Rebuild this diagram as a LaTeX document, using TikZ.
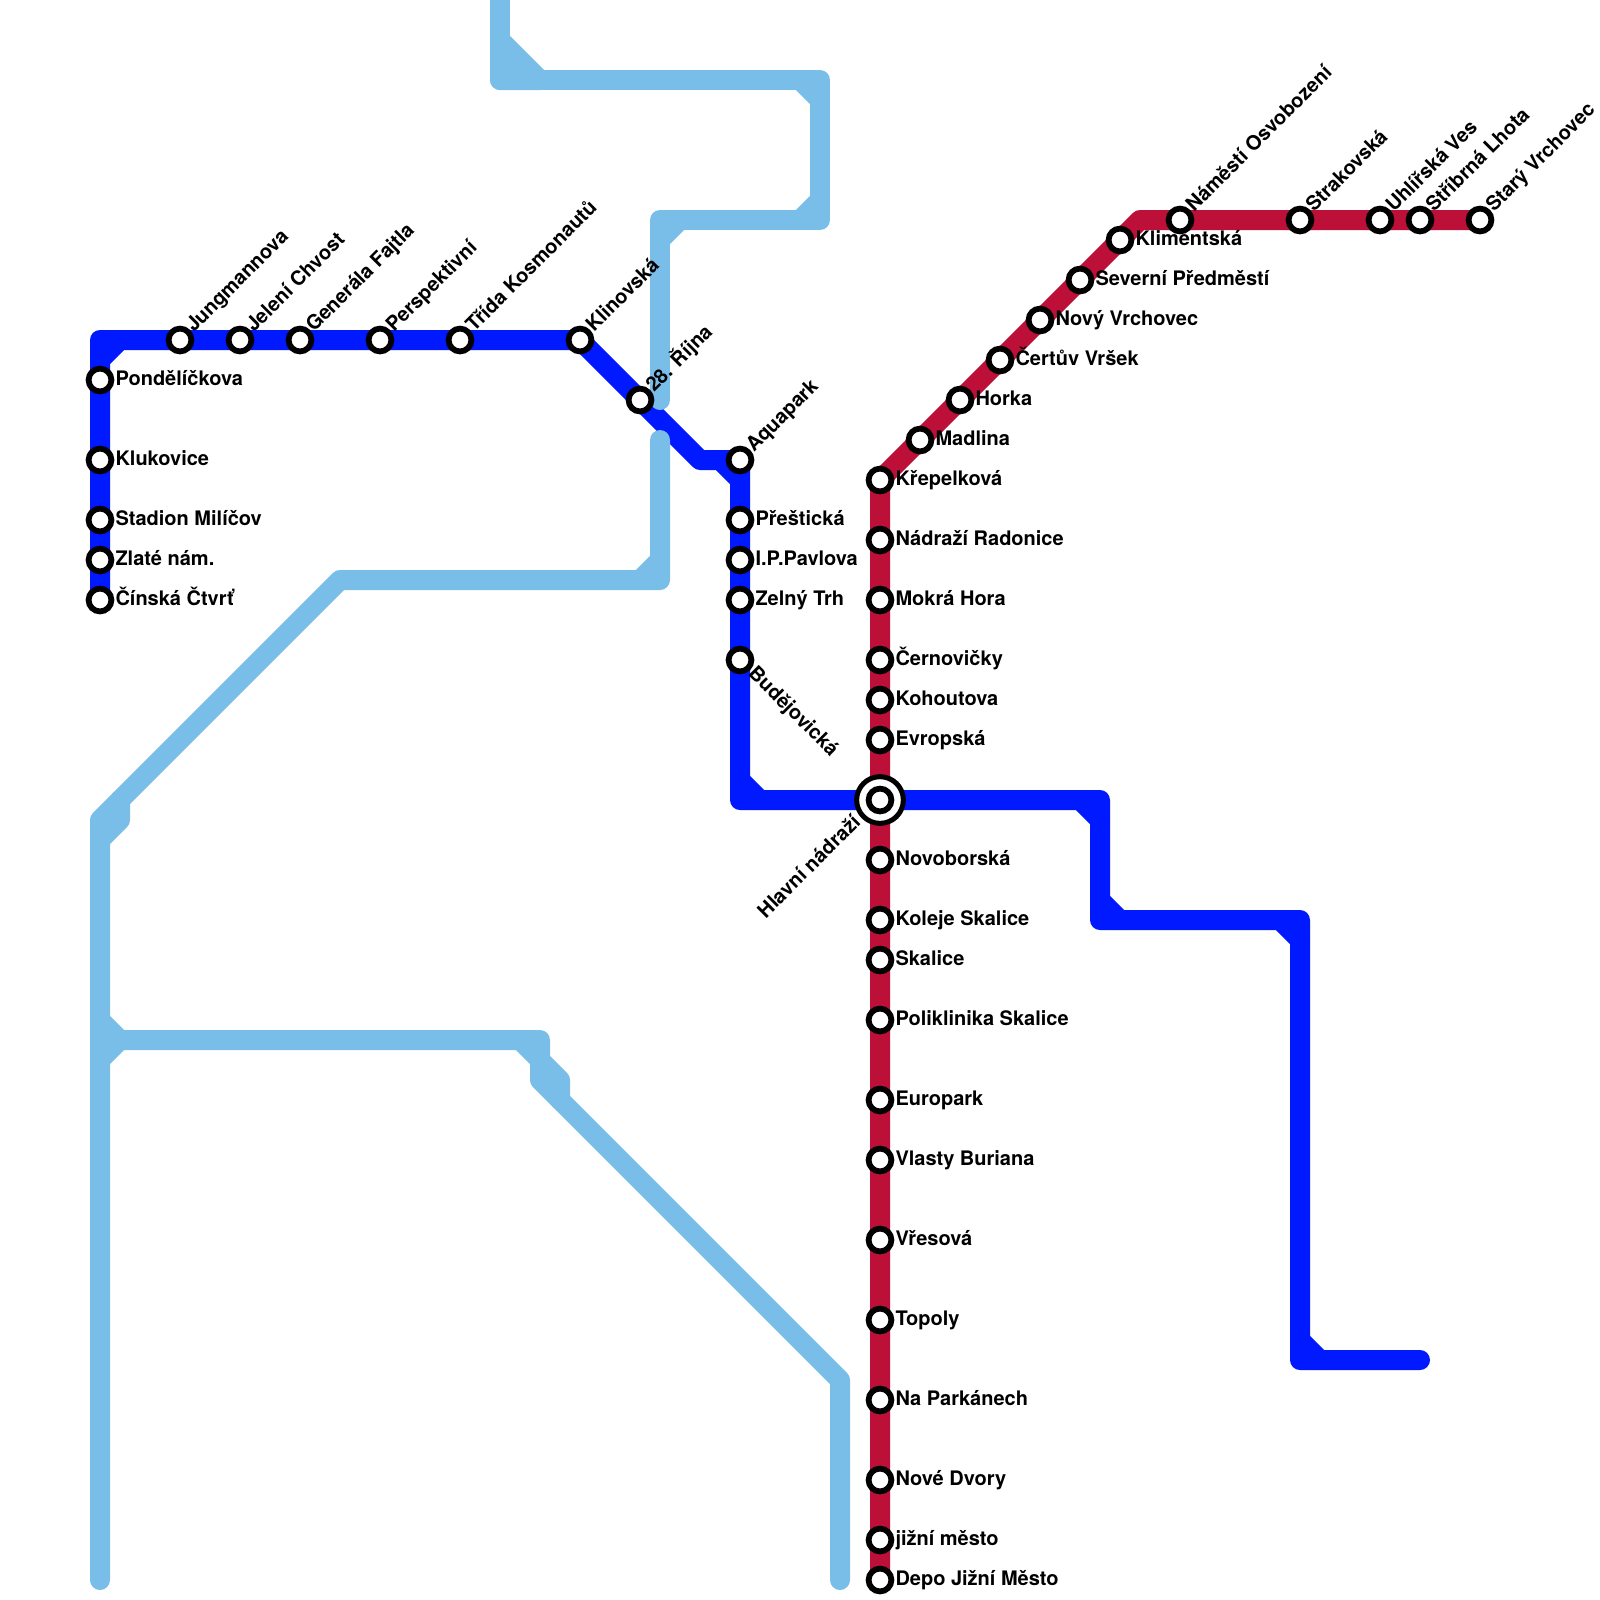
\documentclass[tikz,border=0pt]{standalone}
\usepackage{fontspec}
\usepackage{xcolor}
\newfontfamily\stfont{TeX Gyre Heros}
\usetikzlibrary{calc,backgrounds}
\definecolor{PBlue}{HTML}{0019FF}
\definecolor{PSky}{HTML}{79BDE9}
\definecolor{PRed}{HTML}{BD1038}
\tikzset{
  metro/.style={line width=0.2cm, line cap=round, line join=round},
  station/.style={circle, draw=black, fill=white, line width=0.058cm,
                  minimum size=0.228cm, inner sep=0pt},
  interchange/.style={station, line width=0.05cm, minimum size=0.467cm},
  stlabel/.style={font=\stfont\bfseries\fontsize{5.69}{5.69}\selectfont,
                  text=black, inner sep=0pt},
}
\begin{document}
\begin{tikzpicture}[x=0.2cm, y=-0.2cm]

        \useasboundingbox (0,0) rectangle (80,80);

        %% ── stations ──

        %% label to the right
        \foreach \nm/\px/\py/\txt in {
          pondelickova/5/19/Pondělíčkova, klukovice/5/23/Klukovice,
          milicov/5/26/Stadion Milíčov, zlate/5/28/Zlaté nám.,
          cinska/5/30/Čínská Čtvrť,
          presticka/37/26/Přeštická, pavlova/37/28/I.P.Pavlova,
          zelny/37/30/Zelný Trh,
          krepelkova/44/24/Křepelková, radonice/44/27/Nádraží Radonice,
          mokra/44/30/Mokrá Hora, cernovicky/44/33/Černovičky,
          kohoutova/44/35/Kohoutova, evropska/44/37/Evropská,
          novoborska/44/43/Novoborská, koleje/44/46/Koleje Skalice,
          skalice/44/48/Skalice, poliklinika/44/51/Poliklinika Skalice,
          europark/44/55/Europark, burian/44/58/Vlasty Buriana,
          vresova/44/62/Vřesová, topoly/44/66/Topoly,
          parkany/44/70/Na Parkánech, dvory/44/74/Nové Dvory,
          jizni/44/77/jižní město, depo/44/79/Depo Jižní Město,
          madlina/46/22/Madlina, horka/48/20/Horka,
          certuv/50/18/Čertův Vršek, vrchovec/52/16/Nový Vrchovec,
          severni/54/14/Severní Předměstí, klimentska/56/12/Klimentská}{
          \node[station] (\nm) at (\px,\py) {};
          \node[stlabel, anchor=base west] (\nm-txt)
            at ($(\nm)+(0.74,0.25)$) {\txt};
        }

        %% label going up
        \foreach \nm/\px/\py/\txt in {
          jungmannova/9/17/Jungmannova, jeleni/12/17/Jelení Chvost,
          fajtla/15/17/Generála Fajtla, perspektivni/19/17/Perspektivní,
          kosmonautu/23/17/Třída Kosmonautů, klinovska/29/17/Klinovská,
          rijna/32/20/28. Října, aquapark/37/23/Aquapark,
          osvobozeni/59/11/Náměstí Osvobození, strakovska/65/11/Strakovská,
          uhlirska/69/11/Uhlířská Ves, stribrna/71/11/Stříbrná Lhota,
          stary/74/11/Starý Vrchovec}{
          \node[station] (\nm) at (\px,\py) {};
          \node[stlabel, anchor=base west, rotate=45] (\nm-txt)
            at ($(\nm)+(0.68,-0.33)$) {\txt};
        }

        \node[station] (budejovicka) at (37,33) {};
        \node[stlabel, anchor=base west, rotate=-45] (budejovicka-txt)
          at ($(budejovicka)+(0.35,0.7)$) {Budějovická};

        \node[interchange] (hlavni) at (44,40) {};
        \node[station] (hlavni-in) at (44,40) {};
        \node[stlabel, anchor=base east, rotate=45] (hlavni-txt)
          at ($(hlavni)+(-0.9,1.15)$) {Hlavní nádraží};

        %% ── lines BEHIND the stations ──
        \begin{scope}[on background layer]

          %% blue line
          \coordinate (bcornerA) at (5,17);
          \coordinate (bcornerB) at (35,23);
          \coordinate (bcornerC) at (37,40);
          \coordinate (bcornerD) at (55,40);
          \coordinate (bcornerE) at (55,46);
          \coordinate (bcornerF) at (65,46);
          \coordinate (bcornerG) at (65,68);
          \coordinate (bend) at (71,68);
          \draw[metro, PBlue]
            (cinska.center) -- (bcornerA) -- (klinovska.center)
            -- (bcornerB) -- (aquapark.center) -- (bcornerC)
            -- (hlavni.center) -- (bcornerD) -- (bcornerE)
            -- (bcornerF) -- (bcornerG) -- (bend);
          \foreach \xa/\ya/\xb/\yb in {5/18/6/17, 36/23/37/24, 37/39/38/40,
                                       54/40/55/41, 55/45/56/46,
                                       64/46/65/47, 65/67/66/68}{
            \draw[metro, PBlue] (\xa,\ya) -- (\xb,\yb);
          }

          %% sky line, no stations on it
          \draw[metro, PSky]
            (25,0) -- (25,4) -- (41,4) -- (41,11) -- (33,11) -- (33,20);
          \draw[metro, PSky]
            (33,22) -- (33,29) -- (17,29) -- (5,41) -- (5,79);
          \draw[metro, PSky] (6,40) -- (6,41) -- (5,42);
          \draw[metro, PSky]
            (5,52) -- (27,52) -- (27,54) -- (42,69) -- (42,79);
          \draw[metro, PSky] (27,53) -- (28,54) -- (28,55);
          \foreach \xa/\ya/\xb/\yb in {40/4/41/5, 40/11/41/10,
                                       33/12/34/11, 32/29/33/28,
                                       5/51/6/52, 5/53/6/52, 26/52/27/53}{
            \draw[metro, PSky] (\xa,\ya) -- (\xb,\yb);
          }
          \filldraw[metro, PSky] (25,2) -- (27,4) -- (25,4) -- cycle;

          %% red line
          \coordinate (rcorner) at (57,11);
          \draw[metro, PRed]
            (depo.center) -- (krepelkova.center) -- (rcorner) -- (stary.center);

        \end{scope}

\end{tikzpicture}
\end{document}
